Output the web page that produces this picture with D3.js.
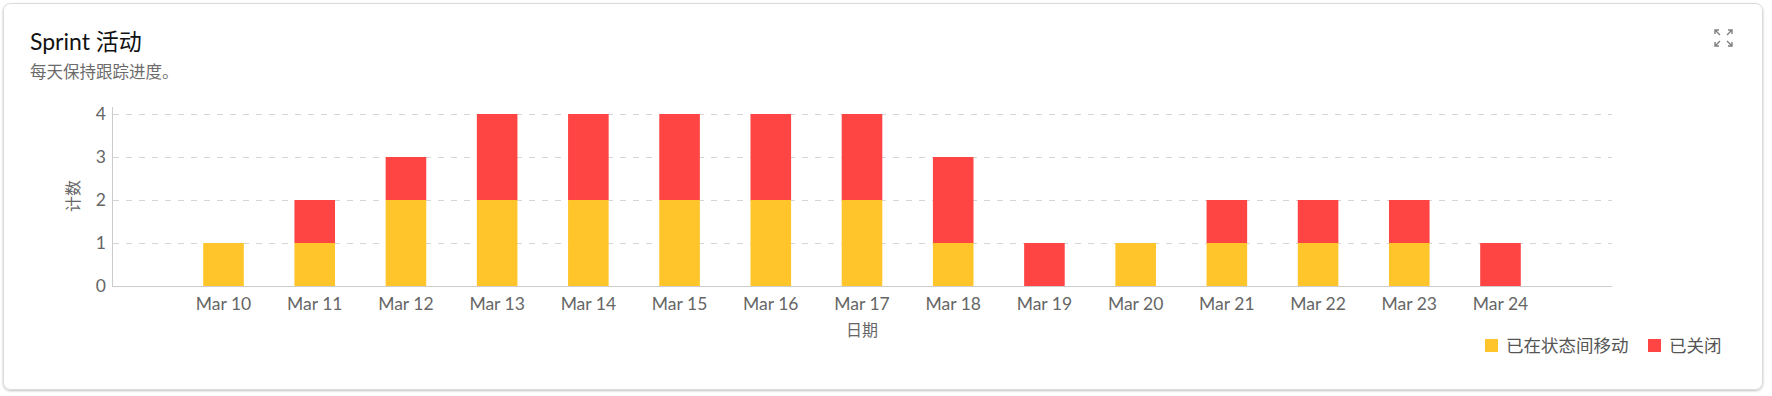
<!DOCTYPE html>
<html><head><meta charset="utf-8">
<script src="https://cdn.jsdelivr.net/npm/d3@7"></script>
<style>
html,body{margin:0;padding:0;background:#fff;}
svg{display:block;font-family:Lato,"Noto Sans CJK SC",sans-serif;}
</style></head>
<body><svg id="c" width="1772" height="396"></svg>
<script>
const categories = ["Mar 10","Mar 11","Mar 12","Mar 13","Mar 14","Mar 15","Mar 16","Mar 17","Mar 18","Mar 19","Mar 20","Mar 21","Mar 22","Mar 23","Mar 24"];
const movedValues = [1,1,2,2,2,2,2,2,1,0,1,1,1,1,0];
const closedValues = [0,1,1,2,2,2,2,2,2,1,0,1,1,1,1];
const seriesNames = ["已在状态间移动","已关闭"];
const seriesColors = ["#FFC52A","#FF4444"];
const yTicks = [0,1,2,3,4];
const titleText = "Sprint 活动";
const subtitleText = "每天保持跟踪进度。";
const xTitle = "日期";
const yTitle = "计数";

const svg = d3.select("#c");
const defs = svg.append("defs");
const f = defs.append("filter").attr("id","sh").attr("x","-2%").attr("y","-5%").attr("width","104%").attr("height","115%");
f.append("feDropShadow").attr("dx",0).attr("dy",1).attr("stdDeviation",1.2).attr("flood-color","#000").attr("flood-opacity",0.25);

svg.append("rect").attr("x",3.5).attr("y",3.5).attr("width",1759).attr("height",386).attr("rx",7)
  .attr("fill","#fff").attr("stroke","#dcdcdc").attr("filter","url(#sh)");

svg.append("text").attr("x",30).attr("y",50).attr("font-size",23).attr("fill","#111").text(titleText);
svg.append("text").attr("x",30).attr("y",78).attr("font-size",16.5).attr("fill","#6b6b6b").text(subtitleText);

// expand icon
const ic = svg.append("g").attr("stroke","#808080").attr("stroke-width",1.4).attr("fill","none");
const ix0=1715, iy0=30, ix1=1732, iy1=46, a=4, d=5;
[[ix0,iy0,1,1],[ix1,iy0,-1,1],[ix0,iy1,1,-1],[ix1,iy1,-1,-1]].forEach(([x,y,sx,sy])=>{
  ic.append("path").attr("d",`M${x+sx*a},${y}L${x},${y}L${x},${y+sy*a}M${x},${y}L${x+sx*d},${y+sy*d}`);
});

const x = d3.scaleBand().domain(categories).range([112,1612]).paddingInner(0.555).paddingOuter(1.0);
const y = d3.scaleLinear().domain([0,4]).range([286,114]);

// grid
svg.append("g").selectAll("line").data(yTicks.filter(t=>t>0)).join("line")
  .attr("x1",113).attr("x2",1612).attr("y1",d=>y(d)+0.5).attr("y2",d=>y(d)+0.5)
  .attr("stroke","#d6d6d6").attr("stroke-dasharray","6,7");

// bars
const stackData = categories.map((c,i)=>({cat:c, moved:movedValues[i], closed:closedValues[i]}));
const stack = d3.stack().keys(["moved","closed"])(stackData);
svg.append("g").selectAll("g").data(stack).join("g").attr("fill",(d,i)=>seriesColors[i])
  .selectAll("rect").data(d=>d.filter(p=>p[1]>p[0])).join("rect")
  .attr("x",d=>x(d.data.cat)).attr("width",x.bandwidth())
  .attr("y",d=>y(d[1])).attr("height",d=>y(d[0])-y(d[1]));

// axes lines
svg.append("line").attr("x1",112.5).attr("x2",112.5).attr("y1",107).attr("y2",286).attr("stroke","#cccccc");
svg.append("line").attr("x1",112).attr("x2",1612).attr("y1",286.5).attr("y2",286.5).attr("stroke","#cccccc");

// y labels
svg.append("g").selectAll("text").data(yTicks).join("text")
  .attr("x",106).attr("y",d=>y(d)).attr("dy","0.36em").attr("text-anchor","end")
  .attr("font-size",17.5).attr("fill","#666").text(d=>d);
// x labels
svg.append("g").selectAll("text").data(categories).join("text")
  .attr("x",d=>x(d)+x.bandwidth()/2).attr("y",309.5).attr("text-anchor","middle")
  .attr("font-size",17.5).attr("fill","#666").text(d=>d);

svg.append("text").attr("x",862).attr("y",336).attr("text-anchor","middle").attr("font-size",16).attr("fill","#666").text(xTitle);
svg.append("text").attr("transform","translate(73,196) rotate(-90)").attr("text-anchor","middle").attr("dy","0.35em")
  .attr("font-size",16).attr("fill","#666").text(yTitle);

// legend
const lg = svg.append("g");
const legX = [1485,1648];
seriesNames.forEach((n,i)=>{
  lg.append("rect").attr("x",legX[i]).attr("y",339).attr("width",13).attr("height",13).attr("fill",seriesColors[i]);
  lg.append("text").attr("x",legX[i]+21).attr("y",351.5).attr("font-size",17.5).attr("fill","#555").text(n);
});
</script></body></html>
